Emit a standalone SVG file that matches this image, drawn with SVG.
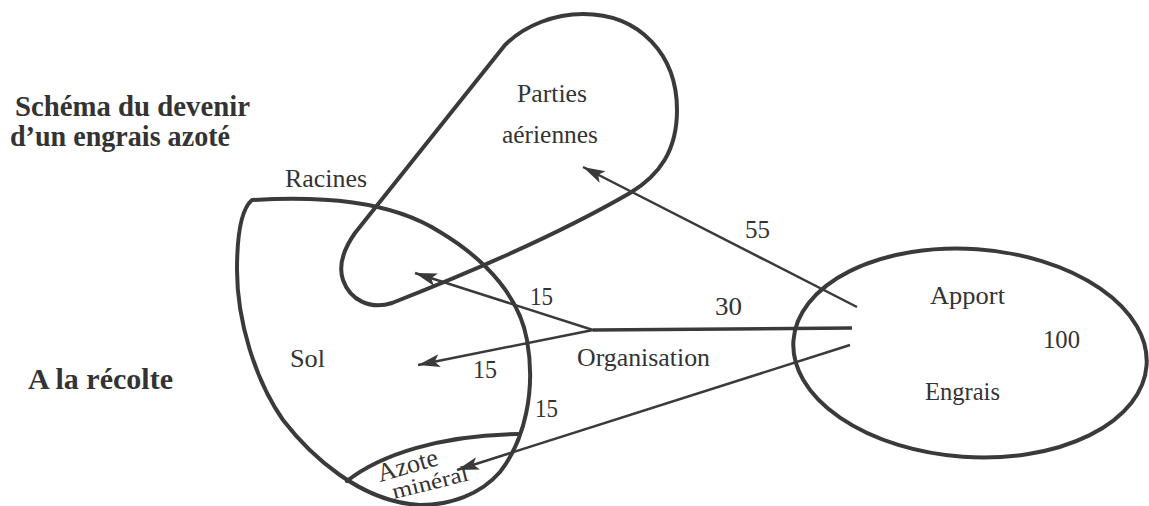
<svg xmlns="http://www.w3.org/2000/svg" width="1149" height="506" viewBox="0 0 1149 506">
<style>
  .t { font-family: "Liberation Serif", "Times New Roman", serif; font-size: 26px; fill: #333; }
  .tm { font-family: "Liberation Serif", "Times New Roman", serif; font-size: 22px; fill: #333; }
  .tb { font-family: "Liberation Serif", "Times New Roman", serif; font-size: 30px; font-weight: bold; fill: #333; }
  .outline { fill: none; stroke: #3a3a3a; stroke-width: 4; stroke-linejoin: round; stroke-linecap: round; }
  .conn { fill: none; stroke: #3a3a3a; stroke-width: 2.5; }
</style>
<defs>
  <marker id="arr" markerUnits="userSpaceOnUse" markerWidth="24" markerHeight="14" refX="22" refY="6.5" orient="auto">
    <path d="M0,0 L22,6.5 L0,13 L5,6.5 Z" fill="#3a3a3a"/>
  </marker>
</defs>
<rect width="1149" height="506" fill="#fff"/>

<g id="title">
  <text class="tb" x="15" y="116" textLength="235" lengthAdjust="spacingAndGlyphs">Schéma du devenir</text>
  <text class="tb" x="10" y="146" textLength="220" lengthAdjust="spacingAndGlyphs">d’un engrais azoté</text>
</g>
<g id="recolte">
  <text class="tb" x="28" y="389" textLength="145" lengthAdjust="spacingAndGlyphs">A la récolte</text>
</g>

<g id="parties-aeriennes">
  <path class="outline" d="M583,14 C640,14 677,55 677,110 C677,150 660,175 630,193 Q540,245 392,303 C370,310 350,300 343,280 C338,265 343,250 355,233 L505,45 C525,25 555,14 583,14 Z"/>
  <text class="t" x="517" y="102" textLength="70" lengthAdjust="spacingAndGlyphs">Parties</text>
  <text class="t" x="502" y="143" textLength="96" lengthAdjust="spacingAndGlyphs">aériennes</text>
</g>

<g id="racines-sol">
  <path class="outline" d="M252,200 C320,196 390,200 440,232 C490,262 520,300 527,340 C536,390 525,440 500,472 C480,495 450,505 420,505 C360,502 310,455 283,420 C255,380 237,320 237,270 C237,240 240,210 252,200 Z"/>
  <text class="t" x="285" y="187" textLength="82" lengthAdjust="spacingAndGlyphs">Racines</text>
  <text class="t" x="290" y="367" textLength="35" lengthAdjust="spacingAndGlyphs">Sol</text>
</g>

<g id="azote-mineral">
  <path class="outline" d="M347,481 C380,455 440,435 518,434"/>
  <text class="t" transform="translate(380,482) rotate(-16)" textLength="62" lengthAdjust="spacingAndGlyphs">Azote</text>
  <text class="tm" transform="translate(394,499) rotate(-14)" textLength="78" lengthAdjust="spacingAndGlyphs">minéral</text>
</g>

<g id="apport-engrais">
  <ellipse class="outline" cx="970" cy="353" rx="177" ry="104" transform="rotate(4 970 353)"/>
  <text class="t" x="930" y="304" textLength="75" lengthAdjust="spacingAndGlyphs">Apport</text>
  <text class="t" x="1043" y="348" textLength="37" lengthAdjust="spacingAndGlyphs">100</text>
  <text class="t" x="925" y="400" textLength="75" lengthAdjust="spacingAndGlyphs">Engrais</text>
</g>

<g id="organisation">
  <text class="t" x="577" y="366" textLength="133" lengthAdjust="spacingAndGlyphs">Organisation</text>
</g>

<g id="connectors">
  <line class="conn" x1="857" y1="307" x2="583" y2="167" marker-end="url(#arr)"/>
  <line class="conn" x1="852" y1="328" x2="593" y2="330" style="stroke-width:3.5"/>
  <line class="conn" x1="593" y1="330" x2="415" y2="273" marker-end="url(#arr)"/>
  <line class="conn" x1="593" y1="330" x2="418" y2="365" marker-end="url(#arr)"/>
  <line class="conn" x1="850" y1="345" x2="457" y2="470" marker-end="url(#arr)"/>
  <text class="t" x="745" y="238" textLength="25" lengthAdjust="spacingAndGlyphs">55</text>
  <text class="t" x="715" y="315" textLength="27" lengthAdjust="spacingAndGlyphs">30</text>
  <text class="t" x="530" y="305" textLength="23" lengthAdjust="spacingAndGlyphs">15</text>
  <text class="t" x="473" y="378" textLength="24" lengthAdjust="spacingAndGlyphs">15</text>
  <text class="t" x="535" y="417" textLength="23" lengthAdjust="spacingAndGlyphs">15</text>
</g>
</svg>
